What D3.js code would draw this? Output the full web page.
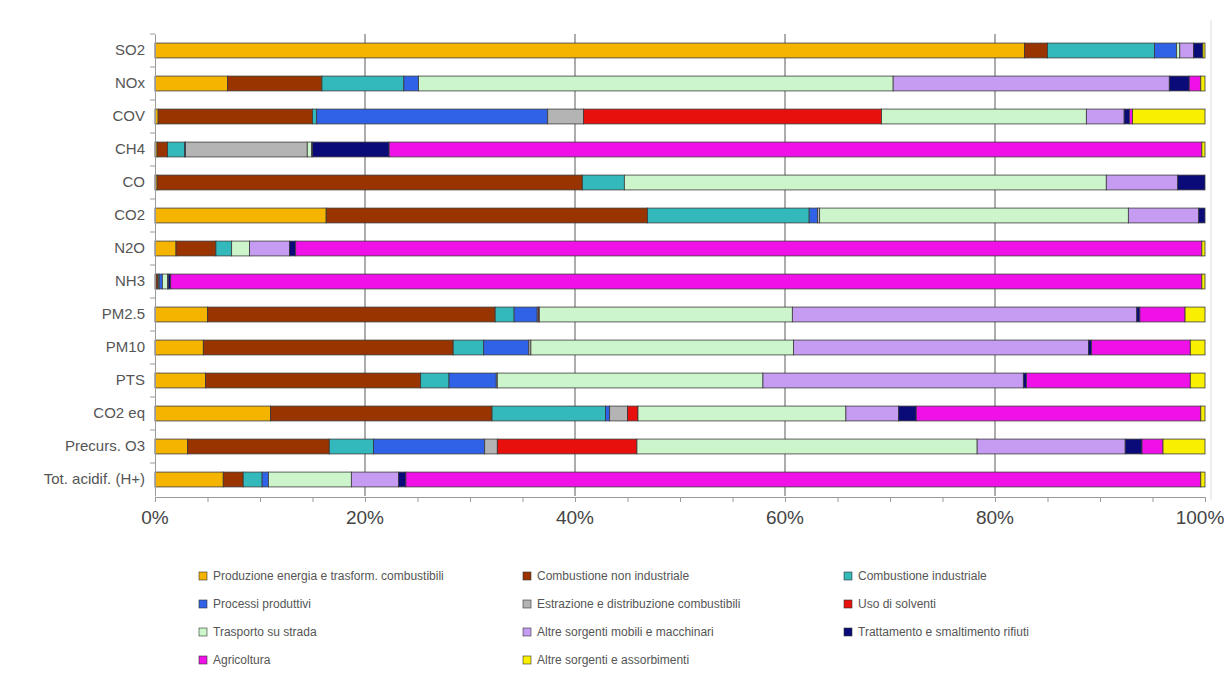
<!DOCTYPE html>
<html>
<head>
<meta charset="utf-8">
<script src="https://cdn.jsdelivr.net/npm/d3@7"></script>
<style>
  body { margin: 0; background: #fff; }
  text { font-family: "Liberation Sans", Arial, sans-serif; }
</style>
</head>
<body>
<svg id="chart" width="1224" height="679"></svg>
<script>
// Pollutants (one bar each)
const categories = ["SO2", "NOx", "COV", "CH4", "CO", "CO2", "N2O", "NH3",
  "PM2.5", "PM10", "PTS", "CO2 eq", "Precurs. O3", "Tot. acidif. (H+)"];

// Emission sectors, in stacking order
const sectors = [
  "Produzione energia e trasform. combustibili",
  "Combustione non industriale",
  "Combustione industriale",
  "Processi produttivi",
  "Estrazione e distribuzione combustibili",
  "Uso di solventi",
  "Trasporto su strada",
  "Altre sorgenti mobili e macchinari",
  "Trattamento e smaltimento rifiuti",
  "Agricoltura",
  "Altre sorgenti e assorbimenti"
];
const sectorColors = ["#f5b400", "#993300", "#33b8bb", "#2f62e6", "#b4b4b4", "#e8100c",
  "#ccf5cc", "#c59cf2", "#0a0a78", "#f010e8", "#f8f000"];

// Share (%) of each sector, per pollutant (same order as categories)
const produzioneEnergia   = [82.8, 6.9, 0.3, 0.2, 0.2, 16.3, 2.0, 0.1, 5.0, 4.6, 4.8, 11.0, 3.1, 6.5];
const combNonIndustriale  = [2.2, 9.0, 14.7, 1.0, 40.5, 30.6, 3.8, 0.2, 27.4, 23.8, 20.5, 21.1, 13.5, 1.9];
const combIndustriale     = [10.2, 7.8, 0.4, 1.6, 4.0, 15.4, 1.5, 0.1, 1.8, 2.9, 2.7, 10.8, 4.2, 1.8];
const processiProduttivi  = [2.1, 1.4, 22.0, 0.1, 0.0, 0.8, 0.0, 0.3, 2.2, 4.3, 4.5, 0.4, 10.6, 0.6];
const estrazione          = [0.0, 0.0, 3.4, 11.6, 0.0, 0.2, 0.0, 0.0, 0.1, 0.2, 0.1, 1.7, 1.2, 0.0];
const usoSolventi         = [0.0, 0.0, 28.4, 0.0, 0.0, 0.0, 0.0, 0.0, 0.1, 0.0, 0.0, 1.0, 13.3, 0.0];
const trasportoStrada     = [0.3, 45.2, 19.5, 0.4, 45.9, 29.4, 1.7, 0.5, 24.1, 25.0, 25.3, 19.8, 32.4, 7.9];
const altreMobili         = [1.3, 26.3, 3.6, 0.1, 6.8, 6.7, 3.8, 0.1, 32.8, 28.1, 24.8, 5.0, 14.1, 4.5];
const rifiuti             = [0.9, 1.9, 0.5, 7.3, 2.6, 0.6, 0.6, 0.2, 0.3, 0.3, 0.3, 1.7, 1.6, 0.7];
const agricoltura         = [0.0, 1.1, 0.3, 77.4, 0.0, 0.0, 86.3, 98.2, 4.3, 9.4, 15.6, 27.1, 2.0, 75.7];
const altreSorgenti       = [0.2, 0.4, 6.9, 0.3, 0.0, 0.0, 0.3, 0.3, 1.9, 1.4, 1.4, 0.4, 4.0, 0.4];

const seriesValues = [produzioneEnergia, combNonIndustriale, combIndustriale, processiProduttivi,
  estrazione, usoSolventi, trasportoStrada, altreMobili, rifiuti, agricoltura, altreSorgenti];

const xTickValues = [0, 0.2, 0.4, 0.6, 0.8, 1.0];

// Rows for d3.stack
const rows = categories.map((c, i) => {
  const r = { category: c };
  sectors.forEach((s, j) => { r[s] = seriesValues[j][i]; });
  return r;
});

const svg = d3.select("#chart");

const x = d3.scaleLinear().domain([0, 1]).range([155, 1205]);
const y = d3.scaleBand().domain(categories).range([34, 496]).paddingInner(0.55).paddingOuter(0.275);
const color = d3.scaleOrdinal().domain(sectors).range(sectorColors);

const stacked = d3.stack().keys(sectors).offset(d3.stackOffsetExpand)(rows);

// Vertical gridlines
svg.append("g")
  .selectAll("line")
  .data([0.2, 0.4, 0.6, 0.8])
  .join("line")
  .attr("x1", d => x(d)).attr("x2", d => x(d))
  .attr("y1", 34).attr("y2", 496)
  .attr("stroke", "#8a8a8a").attr("stroke-width", 1.4);

// Right border of the plot area
svg.append("line")
  .attr("x1", 1211).attr("x2", 1211).attr("y1", 20).attr("y2", 500)
  .attr("stroke", "#dcdcdc").attr("stroke-width", 1);

// Stacked bars
svg.append("g")
  .selectAll("g")
  .data(stacked)
  .join("g")
  .attr("fill", d => color(d.key))
  .selectAll("rect")
  .data(d => d.filter(p => p[1] - p[0] > 0))
  .join("rect")
  .attr("x", d => x(d[0]))
  .attr("width", d => x(d[1]) - x(d[0]))
  .attr("y", d => y(d.data.category))
  .attr("height", y.bandwidth())
  .attr("stroke", "#3a3a3a")
  .attr("stroke-width", 0.8);

// Bottom axis
const xAxis = svg.append("g")
  .attr("transform", "translate(0,497)")
  .call(d3.axisBottom(x).tickValues(d3.range(0, 1.0001, 0.05)).tickSize(5).tickFormat(""));
xAxis.select(".domain").attr("stroke", "#9a9a9a");
xAxis.selectAll(".tick line").attr("stroke", "#9a9a9a");

// Percentage labels; the last one is nudged left to stay inside the page
svg.append("g")
  .selectAll("text")
  .data(xTickValues)
  .join("text")
  .attr("x", d => x(d) - (d === 1 ? 5 : 0))
  .attr("y", 524)
  .attr("text-anchor", "middle")
  .attr("font-size", 19)
  .attr("fill", "#444")
  .text(d3.format(".0%"));

// Left axis
const yAxis = svg.append("g")
  .attr("transform", "translate(155,0)")
  .call(d3.axisLeft(y).tickSize(0).tickPadding(10));
yAxis.select(".domain").attr("stroke", "#9a9a9a");
yAxis.selectAll("text").attr("font-size", 15).attr("fill", "#555");

// Small ticks between rows on the left axis
svg.append("g")
  .selectAll("line")
  .data(categories)
  .join("line")
  .attr("x1", 150).attr("x2", 155)
  .attr("y1", d => y(d) - y.step() * y.paddingInner() / 2)
  .attr("y2", d => y(d) - y.step() * y.paddingInner() / 2)
  .attr("stroke", "#9a9a9a");

// Legend, three columns
const legendX = [203, 527, 848];
const legendY = [576, 604, 632, 660];
const legend = svg.append("g")
  .selectAll("g")
  .data(sectors)
  .join("g")
  .attr("transform", (d, i) => `translate(${legendX[i % 3]},${legendY[Math.floor(i / 3)]})`);
legend.append("rect")
  .attr("x", -4).attr("y", -4).attr("width", 8).attr("height", 8)
  .attr("fill", d => color(d)).attr("stroke", "#333").attr("stroke-width", 0.6);
legend.append("text")
  .attr("x", 10).attr("y", 4)
  .attr("font-size", 12)
  .attr("fill", "#555")
  .text(d => d);
</script>
</body>
</html>
